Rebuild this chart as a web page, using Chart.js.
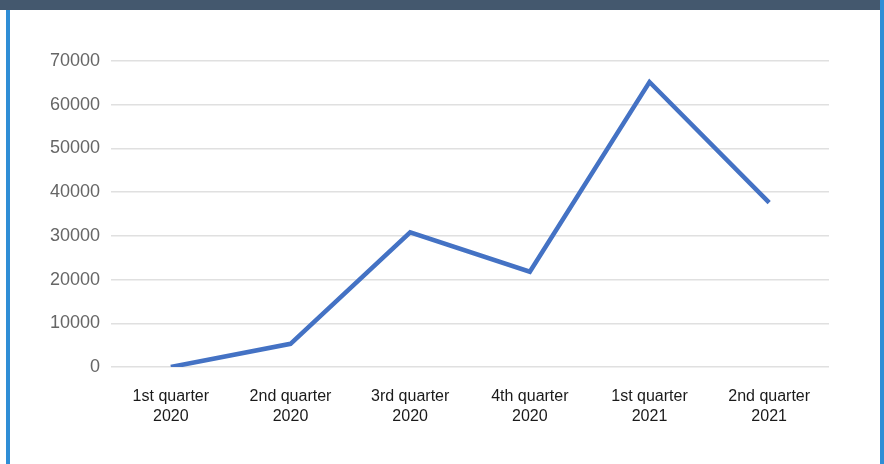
<!DOCTYPE html>
<html>
<head>
<meta charset="utf-8">
<script src="https://cdn.jsdelivr.net/npm/chart.js@4/dist/chart.umd.min.js"></script>
<style>
    body { margin: 0; background: #fff; }
    #wrap { position: relative; width: 884px; height: 464px; overflow: hidden; }
    #sales-chart { position: absolute; left: 0; top: 0; }
    .bar-top { position: absolute; left: 0; top: 0; width: 880px; height: 10px; background: #44586e; }
    .edge-left { position: absolute; left: 6px; top: 10px; width: 4px; height: 454px; background: #2f8ed6; }
    .edge-right { position: absolute; left: 880px; top: 0; width: 4px; height: 464px; background: #2f8ed6; }
</style>
</head>
<body>
<div id="wrap">
    <canvas id="sales-chart" width="884" height="464"></canvas>
    <div class="bar-top"></div>
    <div class="edge-left"></div>
    <div class="edge-right"></div>
</div>
<script>
const quarters = [
    ['1st quarter', '2020'],
    ['2nd quarter', '2020'],
    ['3rd quarter', '2020'],
    ['4th quarter', '2020'],
    ['1st quarter', '2021'],
    ['2nd quarter', '2021']
];
const values = [0, 5300, 30800, 21800, 65200, 37600];
const yMax = 70000;
const yStep = 10000;

document.addEventListener('DOMContentLoaded', () => {
    const ctx = document.getElementById('sales-chart').getContext('2d');
    new Chart(ctx, {
        type: 'line',
        data: {
            labels: quarters,
            datasets: [{
                data: values,
                borderColor: '#4472c4',
                borderWidth: 4.5,
                borderJoinStyle: 'miter',
                pointRadius: 0,
                tension: 0,
                fill: false
            }]
        },
        options: {
            responsive: false,
            animation: false,
            layout: { padding: { top: 61, right: 55, bottom: 0, left: 0 } },
            plugins: {
                legend: { display: false },
                tooltip: { enabled: false }
            },
            scales: {
                x: {
                    offset: true,
                    grid: { display: false, drawTicks: false },
                    border: { display: false },
                    ticks: {
                        autoSkip: false,
                        maxRotation: 0,
                        padding: 20,
                        color: '#1a1a1a',
                        font: { family: '"Liberation Sans", Arial, sans-serif', size: 16, lineHeight: 1.25 }
                    },
                    afterFit: (scale) => { scale.height = 97; }
                },
                y: {
                    min: 0,
                    max: yMax,
                    grid: { color: '#e0e0e0', lineWidth: 1.5, drawTicks: false },
                    border: { display: false },
                    ticks: {
                        stepSize: yStep,
                        padding: 11,
                        color: '#666666',
                        font: { family: '"Liberation Sans", Arial, sans-serif', size: 18 },
                        // plain numbers, no thousands separator
                        callback: (value) => String(value)
                    },
                    afterFit: (scale) => { scale.width = 111; }
                }
            }
        }
    });
});
</script>
</body>
</html>
